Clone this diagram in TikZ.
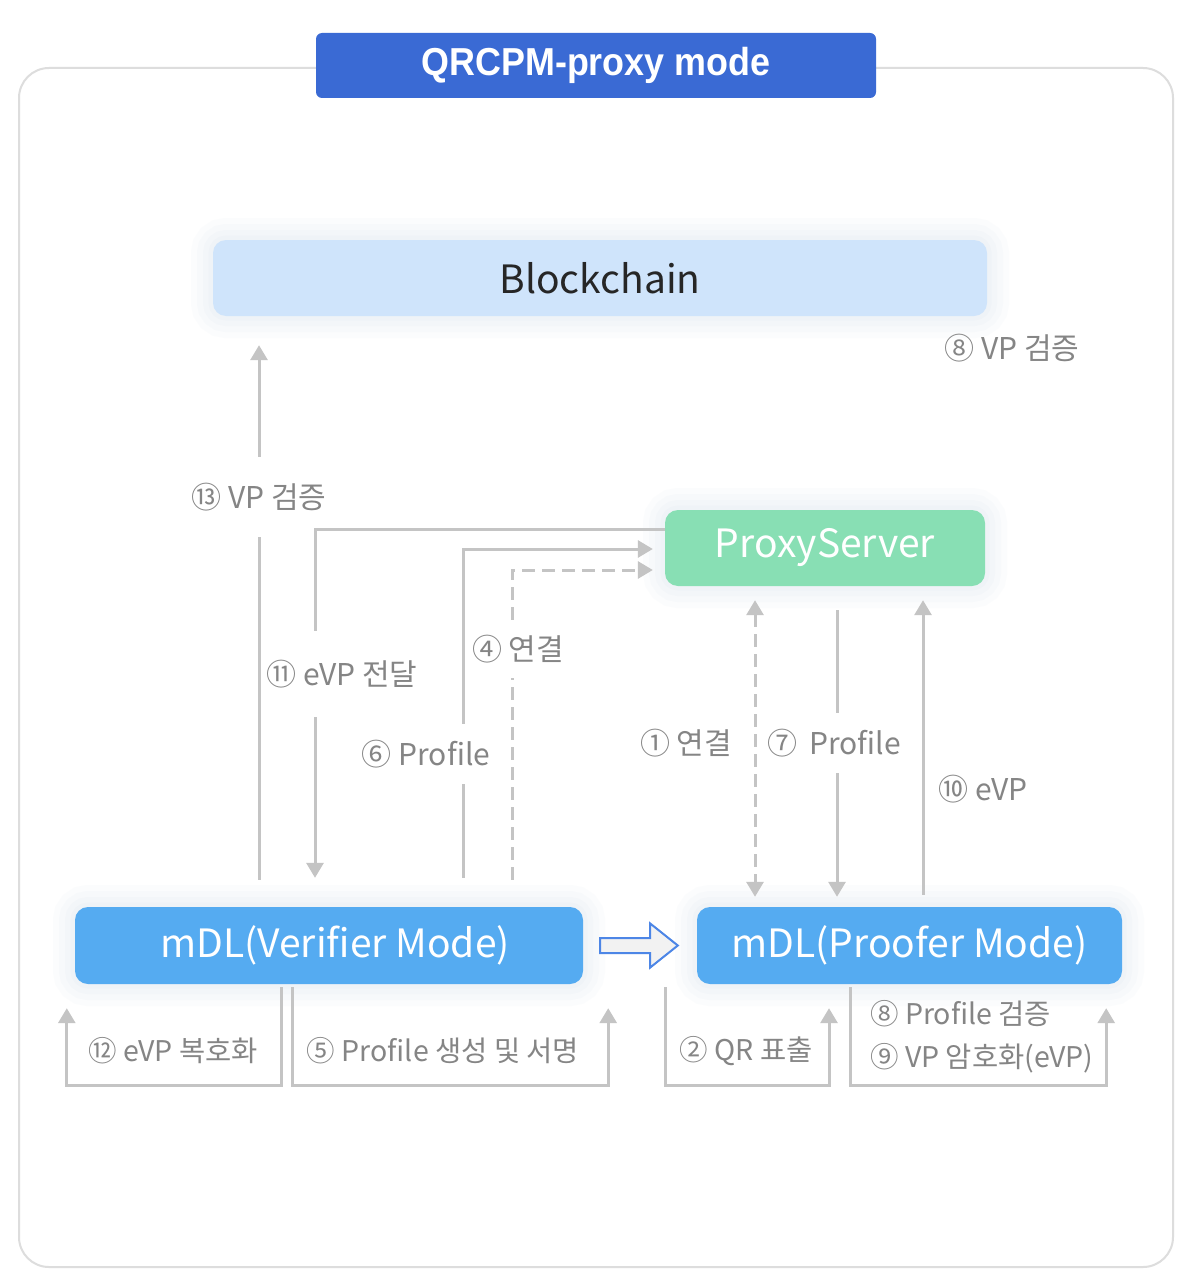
\documentclass[tikz,border=0pt]{standalone}
\usepackage{fontspec}
\newfontfamily\kr{Noto Sans CJK KR}
\newfontfamily\titlefont{Liberation Sans}[FakeStretch=0.92]
\usetikzlibrary{arrows.meta,calc}
\definecolor{arrgray}{HTML}{C4C4C4}
\definecolor{lblgray}{HTML}{858585}
\definecolor{titleblue}{HTML}{3A6AD4}
\definecolor{chainblue}{HTML}{CFE4FB}
\definecolor{proxygreen}{HTML}{88DFB4}
\definecolor{mdlblue}{HTML}{55ABF1}
\definecolor{panelgray}{HTML}{DDDDDD}
\definecolor{hollowfill}{HTML}{F2F2F2}
\definecolor{hollowdraw}{HTML}{4D86E6}
\definecolor{haloc}{HTML}{7A9CC8}
\begin{document}
\begin{tikzpicture}[x=1pt,y=-1pt,
  box/.style={rounded corners=13pt, inner sep=0pt, anchor=center,
    preaction={draw=haloc, draw opacity=0.025, line width=44pt},
    preaction={draw=haloc, draw opacity=0.025, line width=32pt},
    preaction={draw=haloc, draw opacity=0.03, line width=20pt},
    preaction={draw=haloc, draw opacity=0.03, line width=9pt},
    font=\kr\fontsize{39}{44}\selectfont},
  arr/.style={draw=arrgray, line width=3pt, -{Triangle[length=15pt,width=17pt]}},
  loop/.style={draw=arrgray, line width=3pt, -{Triangle[length=15pt,width=17pt]}},
  dsh/.style={dash pattern=on 13pt off 7pt},
  lbl/.style={text=lblgray, inner sep=0pt, font=\kr\fontsize{30}{34}\selectfont},
  blbl/.style={text=lblgray, inner sep=0pt, font=\kr\fontsize{28.5}{32}\selectfont},
  cover/.style={fill=white}
]
\useasboundingbox (0,0) rectangle (1200,1284);
\fill[white] (0,0) rectangle (1200,1284);

% panel
\draw[panelgray, line width=2pt, rounded corners=30pt] (19,68) rectangle (1173,1267);

% title
\node[fill=titleblue, rounded corners=6pt, minimum width=560pt, minimum height=65pt, inner sep=0pt,
  text=white, font=\titlefont\bfseries\fontsize{39}{44}\selectfont] (title) at (596,65.5) {QRCPM-proxy mode};

% main boxes
\node[box, fill=chainblue, text=black!85, minimum width=774pt, minimum height=76pt] (blockchain) at (600,278) {Blockchain};
\node[box, fill=proxygreen, text=white, minimum width=320pt, minimum height=76pt] (proxy) at (825,548) {ProxyServer};
\node[box, fill=mdlblue, text=white, minimum width=508pt, minimum height=77pt] (verifier) at (329,945.5) {\hspace{12pt}mDL(Verifier Mode)};
\node[box, fill=mdlblue, text=white, minimum width=425pt, minimum height=77pt] (proofer) at (909.5,945.5) {mDL(Proofer Mode)\hspace{12pt}};

% hollow arrow verifier -> proofer
\draw[draw=hollowdraw, fill=hollowfill, line width=2pt, line join=miter]
  ($(verifier.east)+(17,-7.5)$) -- ($(verifier.east)+(67,-7.5)$) -- ($(verifier.east)+(67,-22)$)
  -- ($(proofer.west)+(-19,0)$) -- ($(verifier.east)+(67,22)$) -- ($(verifier.east)+(67,7.5)$)
  -- ($(verifier.east)+(17,7.5)$) -- cycle;

% connectors and their labels
\draw[arr] ($(verifier.north)+(-70,-27)$) -- ($(blockchain.south)+(-341,29)$);
\node[lbl, cover, minimum height=80pt] (l13) at (259,497) {⑬ VP 검증};

\draw[arr] ($(proxy.west)+(0,-19)$) -| ($(verifier.north)+(-14,-29)$);
\node[lbl, cover, minimum height=86pt] (l11) at (342,674) {⑪ eVP 전달};

\draw[arr] ($(verifier.north)+(134,-29)$) |- ($(proxy.west)+(-12,1)$);
\node[lbl, cover, minimum height=60pt] (l6) at (426,754) {⑥ Profile};

\draw[arr, dsh] ($(verifier.north)+(183,-27)$) |- ($(proxy.west)+(-12,22)$);
\node[lbl, cover, minimum height=57pt] (l4) at (518,649) {④ 연결};

\draw[draw=arrgray, line width=3pt, dsh, {Triangle[length=15pt,width=17pt]}-{Triangle[length=15pt,width=17pt]}]
  ($(proxy.south)+(-70,14)$) -- ($(proofer.north)+(-154.5,-10)$);
\node[lbl] (l1) at (686,743) {① 연결};

\draw[arr] ($(proxy.south)+(12,24)$) -- ($(proofer.north)+(-72.5,-10)$);
\node[lbl, cover, minimum height=60pt] (l7) at (834,743) {⑦\hspace{12pt}Profile};

\draw[arr] ($(proofer.north)+(13.5,-12)$) -- ($(proxy.south)+(98,14)$);
\node[lbl] (l10) at (983,789) {⑩ eVP};

\node[lbl] (l8a) at (1012,348) {⑧ VP 검증};

% self loops
\draw[loop] ($(verifier.south)+(-48,3)$) -- ++(0,98) -| ($(verifier.south west)+(-8,24)$);
\draw[loop] ($(verifier.south)+(-37,3)$) -- ++(0,98) -| ($(verifier.south east)+(25,24)$);
\draw[loop] ($(proofer.south west)+(-31,3)$) -- ++(0,98) -| ($(proofer.south)+(-80.5,24)$);
\draw[loop] ($(proofer.south)+(-59.5,3)$) -- ++(0,98) -| ($(proofer.south east)+(-16,24)$);

\node[blbl] (l12) at (173,1051) {⑫ eVP 복호화};
\node[blbl] (l5) at (443,1051) {⑤ Profile 생성 및 서명};
\node[blbl] (l2) at (746,1051) {② QR 표출};
\node[blbl, anchor=west] (l8b) at (870,1014) {⑧ Profile 검증};
\node[blbl, anchor=west] (l9) at (870,1058) {⑨ VP 암호화(eVP)};
\end{tikzpicture}
\end{document}
